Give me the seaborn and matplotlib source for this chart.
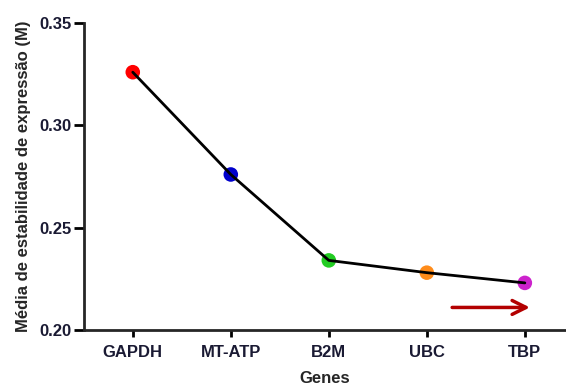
import numpy as np
import pandas as pd
import matplotlib
matplotlib.use('Agg')
import matplotlib.pyplot as plt
import seaborn as sns

genes = ['GAPDH', 'MT-ATP', 'B2M', 'UBC', 'TBP']
m_values = [0.326, 0.276, 0.234, 0.228, 0.223]
point_colors = ['#ff0000', '#0000cc', '#22cc22', '#ff8c1a', '#cc22cc']

sns.set_style('ticks')
plt.rcParams['font.family'] = ['Liberation Sans', 'DejaVu Sans']
plt.rcParams['font.weight'] = 'bold'

df = pd.DataFrame({'Genes': genes, 'M': m_values})
df['pos'] = np.arange(len(genes))

fig = plt.figure(figsize=(5.66, 3.85), dpi=100)
ax = fig.add_axes([0.148, 0.143, 0.852, 0.797])

sns.lineplot(data=df, x='pos', y='M', color='black', linewidth=2, ax=ax, zorder=2)
sns.scatterplot(data=df, x='pos', y='M', hue='Genes', palette=point_colors,
                s=110, edgecolor='none', legend=False, ax=ax, zorder=1)

ax.set_xlim(-0.5, 4.42)
ax.set_ylim(0.20, 0.35)
ax.set_xticks(df['pos'])
ax.set_xticklabels(genes)
ax.set_yticks([0.20, 0.25, 0.30, 0.35])
ax.set_yticklabels(['0.20', '0.25', '0.30', '0.35'])
ax.tick_params(axis='both', labelsize=12, width=2, colors='black',
               labelcolor='#1a1a33')
ax.tick_params(axis='x', length=5, pad=6)
ax.tick_params(axis='y', length=7, pad=2)
ax.set_xlabel('Genes', fontsize=12, fontweight='bold', labelpad=8)
ax.set_ylabel('Média de estabilidade de expressão (M)', fontsize=12,
              fontweight='bold', labelpad=6)
sns.despine(ax=ax)
ax.spines['left'].set_linewidth(2)
ax.spines['bottom'].set_linewidth(2)

ax.annotate('', xy=(4.08, 0.211), xytext=(3.23, 0.211),
            arrowprops=dict(arrowstyle='->,head_length=1.0,head_width=0.5',
                            color='#b30000', lw=2.5))

fig.savefig('out.png', dpi=100)
